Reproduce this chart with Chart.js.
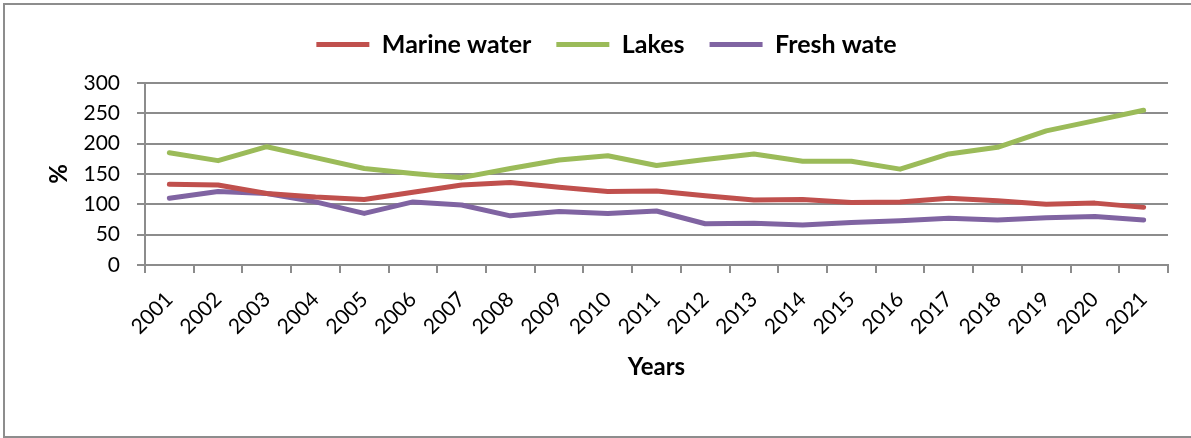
<!DOCTYPE html>
<html lang="en">
<head>
    <meta charset="UTF-8">
    <title>Water trends</title>
    <style>
        body { margin: 0; background: #fff; }
        .frame { position: absolute; left: 3px; top: 3px; width: 1200px; height: 431px; border: 2px solid #8d8d8d; }
        #chart { position: absolute; left: 0; top: 0; }
    </style>
</head>
<body>
    <div class="frame"></div>
    <canvas id="chart" width="1191" height="438"></canvas>

    <script src="https://cdn.jsdelivr.net/npm/chart.js"></script>
    <script>
        const years = ['2001', '2002', '2003', '2004', '2005', '2006', '2007', '2008', '2009', '2010', '2011',
                       '2012', '2013', '2014', '2015', '2016', '2017', '2018', '2019', '2020', '2021'];
        const marineWater = [133, 132, 118, 112, 108, 120, 132, 136, 128, 121, 122, 114, 107, 108, 103, 104, 110, 106, 100, 102, 95];
        const lakes = [185, 172, 195, 177, 159, 151, 144, 159, 173, 180, 164, 174, 183, 171, 171, 158, 183, 194, 221, 238, 255];
        const freshWate = [110, 121, 118, 104, 85, 104, 99, 81, 88, 85, 89, 68, 69, 66, 70, 73, 77, 74, 78, 80, 74];
        const yTicks = [0, 50, 100, 150, 200, 250, 300];

        const gray = '#8c8c8c';
        const font = 'Lato';

        function line(label, data, color) {
            return {
                label: label,
                data: data,
                borderColor: color,
                backgroundColor: color,
                borderWidth: 5,
                pointRadius: 0,
                tension: 0,
                borderCapStyle: 'round',
                borderJoinStyle: 'round'
            };
        }

        // make room below the legend so the plot starts where the original does
        const legendSpace = {
            id: 'legendSpace',
            beforeInit(chart) {
                const fit = chart.legend.fit;
                chart.legend.fit = function () {
                    fit.bind(chart.legend)();
                    this.height = 76;
                };
            }
        };

        new Chart(document.getElementById('chart'), {
            type: 'line',
            data: {
                labels: years,
                datasets: [
                    line('Marine water', marineWater, '#c0504d'),
                    line('Lakes', lakes, '#9bbb59'),
                    line('Fresh wate', freshWate, '#8064a2')
                ]
            },
            plugins: [legendSpace],
            options: {
                responsive: false,
                animation: false,
                layout: { padding: { top: 7, left: 45, right: 23, bottom: 56 } },
                plugins: {
                    tooltip: { enabled: false },
                    legend: {
                        position: 'top',
                        labels: {
                            usePointStyle: true,
                            pointStyle: 'line',
                            pointStyleWidth: 53,
                            padding: 25,
                            color: '#000',
                            font: { family: font, size: 25, weight: 'bold' }
                        }
                    }
                },
                scales: {
                    x: {
                        offset: true,
                        afterFit(scale) { scale.height = 117; },
                        grid: { display: true, drawOnChartArea: false, offset: true, color: gray, lineWidth: 2, tickLength: 8 },
                        border: { color: gray, width: 2 },
                        ticks: {
                            autoSkip: false,
                            minRotation: 45,
                            maxRotation: 45,
                            color: '#000',
                            padding: 14,
                            font: { family: font, size: 21 }
                        },
                        title: {
                            display: true,
                            text: 'Years',
                            color: '#000',
                            padding: 0,
                            font: { family: font, size: 24, weight: 'bold' }
                        }
                    },
                    y: {
                        min: 0,
                        max: 300,
                        afterFit(scale) { scale.width = 100; },
                        afterBuildTicks(scale) { scale.ticks = yTicks.map(v => ({ value: v })); },
                        grid: { color: gray, lineWidth: 2, tickLength: 8 },
                        border: { color: gray, width: 2 },
                        ticks: {
                            color: '#000',
                            padding: 17,
                            font: { family: font, size: 21 }
                        },
                        title: {
                            display: true,
                            text: '%',
                            color: '#000',
                            padding: 0,
                            font: { family: font, size: 24, weight: 'bold' }
                        }
                    }
                }
            }
        });
    </script>
</body>
</html>
